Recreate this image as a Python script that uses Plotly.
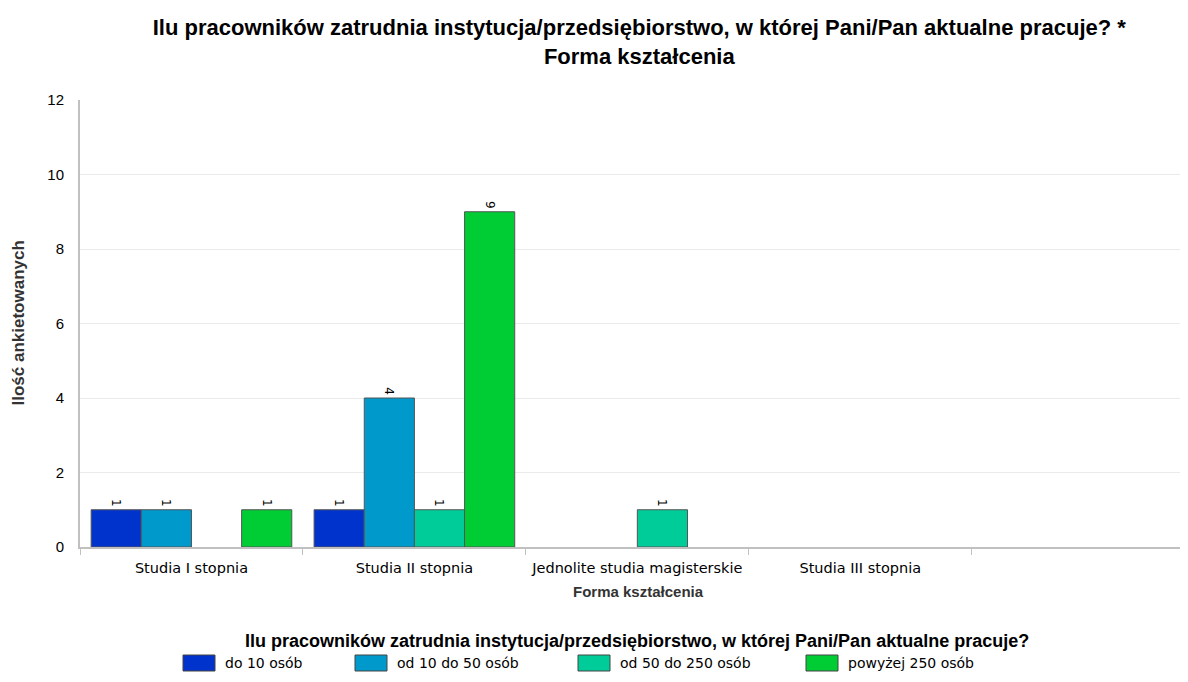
import plotly.graph_objects as go

# categories on the x axis (last one is an empty slot, as in the original chart)
categories = ["Studia I stopnia", "Studia II stopnia", "Jednolite studia magisterskie",
              "Studia III stopnia", " "]

# series: company size groups
series_names = ["do 10 osób", "od 10 do 50 osób", "od 50 do 250 osób", "powyżej 250 osób"]
do_10 = [1, 1, None, None, None]
od_10_do_50 = [1, 4, None, None, None]
od_50_do_250 = [None, 1, 1, None, None]
powyzej_250 = [1, 9, None, None, None]

y_ticks = [0, 2, 4, 6, 8, 10, 12]

colors = ["#0033CC", "#0099CC", "#00CC99", "#00CC33"]
all_values = [do_10, od_10_do_50, od_50_do_250, powyzej_250]

legend_title = "Ilu pracowników zatrudnia instytucja/przedsiębiorstwo, w której Pani/Pan aktualne pracuje?"

# page body adds 8px offset, so the figure is a bit smaller than the window
W, H = 1180, 674
ML, MT, MB = 72, 92, 135
plot_w = W - ML
plot_h = H - MT - MB


def px_x(x):
    # screen x (px) -> paper coordinate
    return (x - 8 - ML) / plot_w


def px_y(y):
    # screen y (px) -> paper coordinate
    return (H - MB - (y - 8)) / plot_h


fig = go.Figure()
for name, vals, col in zip(series_names, all_values, colors):
    fig.add_trace(go.Bar(
        x=categories, y=vals, name=name,
        marker=dict(color=col, line=dict(color="#555555", width=1)),
        text=[("" if v is None else str(v)) for v in vals],
        textposition="outside", textangle=90,
        textfont=dict(family="DejaVu Sans", size=12, color="#000000"),
        cliponaxis=False, showlegend=False,
    ))

# hand-made legend with wide swatches (like the original)
swatch_left = [183, 355, 578, 806]
shapes = []
annots = []
for name, col, sx in zip(series_names, colors, swatch_left):
    shapes.append(dict(type="rect", xref="paper", yref="paper",
                       x0=px_x(sx), x1=px_x(sx + 32), y0=px_y(671), y1=px_y(655),
                       fillcolor=col, line=dict(color="#444444", width=1)))
    annots.append(dict(text=name, xref="paper", yref="paper",
                       x=px_x(sx + 40), y=px_y(663), xanchor="left", yanchor="middle",
                       showarrow=False,
                       font=dict(family="DejaVu Sans", size=14, color="#000000")))

annots.append(dict(text="<b>" + legend_title + "</b>", xref="paper", yref="paper",
                   x=px_x(637), y=px_y(641), xanchor="center", yanchor="middle",
                   showarrow=False,
                   font=dict(family="Liberation Sans", size=18, color="#000000")))
annots.append(dict(text="<b>Ilość ankietowanych</b>", xref="paper", yref="paper",
                   x=px_x(18), y=0.5, xanchor="center", yanchor="middle",
                   textangle=-90, showarrow=False,
                   font=dict(family="Liberation Sans", size=17, color="#333333")))
annots.append(dict(text="<b>Forma kształcenia</b>", xref="paper", yref="paper",
                   x=px_x(638), y=px_y(591), xanchor="center", yanchor="middle",
                   showarrow=False,
                   font=dict(family="Liberation Sans", size=15, color="#333333")))

fig.update_layout(
    width=W, height=H,
    paper_bgcolor="white", plot_bgcolor="white",
    margin=dict(l=ML, r=0, t=MT, b=MB),
    barmode="group", bargap=0.1, bargroupgap=0,
    title=dict(
        text="Ilu pracowników zatrudnia instytucja/przedsiębiorstwo, w której Pani/Pan aktualne pracuje? *<br>Forma kształcenia",
        x=0.535, xanchor="center", y=0.96, yanchor="top",
        font=dict(family="Liberation Sans", size=22, color="#000000", weight="bold"),
    ),
    showlegend=False,
    shapes=shapes,
    annotations=annots,
)

fig.update_xaxes(
    type="category", range=[-0.5, 4.47], automargin=False,
    showline=True, linecolor="#c0c0c0", linewidth=2,
    ticks="outside", tickson="boundaries", ticklen=6, tickcolor="#c0c0c0",
    ticklabelstandoff=7, tickangle=0,
    showgrid=False,
    tickfont=dict(family="DejaVu Sans", size=14.5, color="#000000"),
)

fig.update_yaxes(
    range=[0, 12], tickvals=y_ticks, automargin=False,
    showline=True, linecolor="#c0c0c0", linewidth=2,
    showgrid=True, gridcolor="#ebebeb", zeroline=False,
    ticks="", ticklabelstandoff=11,
    tickfont=dict(family="Liberation Sans", size=15, color="#000000"),
)

fig.write_html("out.html")
